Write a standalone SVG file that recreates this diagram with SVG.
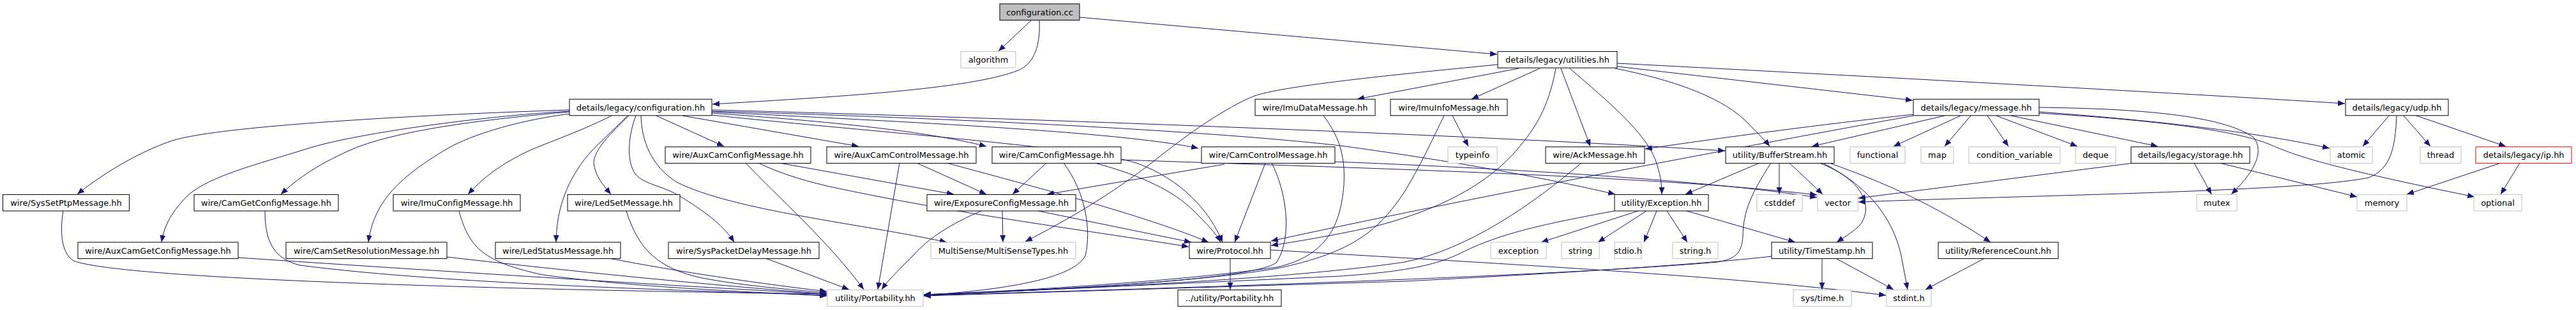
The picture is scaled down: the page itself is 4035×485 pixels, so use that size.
<svg xmlns="http://www.w3.org/2000/svg" width="4035" height="485" viewBox="0 0 4035 485">
<style>
text{font-family:"DejaVu Sans","Liberation Sans",sans-serif;font-size:13px;text-anchor:middle;fill:#000}
.n rect{fill:#fff;stroke:#000;stroke-width:1}
.x rect{fill:#fff;stroke:#bfbfbf;stroke-width:1}
.r rect{fill:#bfbfbf;stroke:#000;stroke-width:1}
.t rect{fill:#fff;stroke:#ff0000;stroke-width:1}
#edges path{fill:none;stroke:#191970;stroke-width:1;marker-end:url(#a)}
</style>
<defs>
<marker id="a" markerUnits="userSpaceOnUse" markerWidth="11" markerHeight="9" refX="11" refY="4.5" orient="auto"><path d="M0,0 L11,4.5 L0,9 Z" fill="#191970"/></marker>
</defs>
<rect width="4035" height="485" fill="#fff"/>
<g id="edges">
<path d="M1615,32 L1564,80"/>
<path d="M1628,32 C1630,70 1620,100 1595,110 C1520,140 1300,152 1116,163"/>
<path d="M1691,27 L2345,85"/>
<path d="M2346,101 C2150,120 2010,135 1965,150 C1920,168 1860,210 1810,250 C1740,305 1670,345 1606,378"/>
<path d="M2379,107 L2126,155"/>
<path d="M2412,107 L2305,155"/>
<path d="M2437,107 C2425,170 2405,200 2378,232 C2330,290 2250,330 2150,355 C2080,370 2030,378 1991,384"/>
<path d="M2445,107 L2491,229"/>
<path d="M2459,107 C2520,160 2575,205 2593,250 C2600,270 2603,285 2603,304"/>
<path d="M2530,107 C2620,125 2690,150 2730,185 C2750,205 2765,220 2772,229"/>
<path d="M2533,104 L2996,157"/>
<path d="M2533,99 C2900,118 3400,145 3673,162"/>
<path d="M892,172 C700,178 350,195 270,220 C210,240 150,280 121,304"/>
<path d="M892,174 C750,182 550,210 480,233 C400,258 330,275 295,305 C270,330 258,350 253,379"/>
<path d="M892,175 C780,185 640,200 560,230 C500,255 465,280 440,304"/>
<path d="M892,178 C800,190 730,215 700,233 C620,280 585,320 577,379"/>
<path d="M958,181 C900,210 850,225 820,240 C780,260 755,280 733,304"/>
<path d="M983,181 C960,205 930,230 915,250 C885,290 872,330 871,379"/>
<path d="M985,181 C955,210 930,235 930,255 C932,275 945,290 957,304"/>
<path d="M996,181 C985,210 980,250 995,272 C1010,290 1040,290 1070,310 C1110,335 1135,355 1150,379"/>
<path d="M1004,181 C1005,220 1020,260 1060,285 C1150,330 1350,350 1483,379"/>
<path d="M1028,181 L1134,229"/>
<path d="M1069,181 L1345,229"/>
<path d="M1115,177 C1300,190 1450,205 1545,229"/>
<path d="M1115,175 C1400,190 1750,205 1877,232"/>
<path d="M1115,180 C1350,205 1700,230 1780,255 C1850,280 1895,330 1915,379"/>
<path d="M1115,172 C1500,182 2300,210 2702,236"/>
<path d="M1115,174 C1500,185 1900,205 2100,228 C2300,255 2450,285 2530,304"/>
<path d="M1168,255 C1220,310 1300,380 1353,453"/>
<path d="M1188,255 C1230,275 1270,285 1300,292 C1500,335 1700,360 1862,386"/>
<path d="M1221,255 L1494,304"/>
<path d="M1409,255 L1375,453"/>
<path d="M1436,255 L1545,304"/>
<path d="M1483,255 C1650,300 1800,340 1893,379"/>
<path d="M1639,255 L1586,304"/>
<path d="M1666,255 C1700,300 1710,360 1700,400 C1680,440 1550,455 1447,462"/>
<path d="M1715,255 C1790,275 1840,300 1870,330 C1890,350 1905,365 1912,379"/>
<path d="M1756,250 C2100,262 2600,275 2846,305"/>
<path d="M1918,257 L1640,304"/>
<path d="M1982,255 L1934,379"/>
<path d="M1992,255 C2015,300 2025,370 2000,410 C1970,440 1600,455 1447,462"/>
<path d="M2091,253 C2400,265 2700,285 2846,309"/>
<path d="M2073,181 C2095,210 2108,240 2105,290 C2100,350 2080,400 2000,418 C1850,440 1600,455 1447,461"/>
<path d="M2262,181 C2245,215 2230,250 2200,300 C2160,360 2120,395 2000,420 C1850,445 1600,455 1447,461"/>
<path d="M2275,181 L2300,229"/>
<path d="M2477,255 C2400,320 2300,390 2200,410 C2000,440 1600,455 1447,461"/>
<path d="M1537,330 C1490,350 1455,372 1430,400 C1405,425 1390,440 1381,453"/>
<path d="M1570,330 L1571,379"/>
<path d="M1626,330 L1866,379"/>
<path d="M2997,181 C2700,235 2300,310 1991,377"/>
<path d="M2997,179 C2850,195 2700,215 2577,233"/>
<path d="M3046,181 L2838,229"/>
<path d="M3071,181 L2966,229"/>
<path d="M3087,181 L3046,229"/>
<path d="M3113,181 L3146,229"/>
<path d="M3127,181 L3254,229"/>
<path d="M3150,181 L3380,229"/>
<path d="M3194,168 C3350,170 3480,180 3530,215 C3550,240 3525,275 3495,304"/>
<path d="M3194,175 C3400,190 3550,210 3649,232"/>
<path d="M3194,177 C3380,188 3510,205 3560,228 C3600,245 3650,262 3876,308"/>
<path d="M3742,181 L3701,229"/>
<path d="M3765,181 L3807,229"/>
<path d="M3785,181 L3925,229"/>
<path d="M3754,181 C3752,230 3745,265 3710,278 C3600,300 3200,305 2911,316"/>
<path d="M3342,255 L2911,310"/>
<path d="M3437,255 L3464,304"/>
<path d="M3477,255 L3692,308"/>
<path d="M3917,255 L3770,304"/>
<path d="M3947,255 L3917,304"/>
<path d="M2756,255 L2640,304"/>
<path d="M2787,255 L2787,304"/>
<path d="M2803,255 L2855,304"/>
<path d="M2850,255 C2915,280 2935,320 2915,350 C2905,362 2890,370 2877,379"/>
<path d="M2855,255 C2925,290 2965,340 2978,400 L2988,453"/>
<path d="M2868,256 C2950,285 3030,320 3118,379"/>
<path d="M2774,255 C2745,300 2730,330 2730,370 C2728,395 2720,405 2690,410 C2400,435 1700,455 1447,462"/>
<path d="M2566,330 L2414,379"/>
<path d="M2579,330 L2503,379"/>
<path d="M2595,330 L2575,379"/>
<path d="M2611,330 L2643,379"/>
<path d="M2642,330 L2812,379"/>
<path d="M2529,330 C2420,350 2350,365 2290,395 C2250,415 2200,425 2100,432 L1447,462"/>
<path d="M2854,405 L2854,453"/>
<path d="M2877,405 L2966,453"/>
<path d="M2775,401 C2700,410 2500,425 2200,440 L1447,463"/>
<path d="M3107,405 L3016,453"/>
<path d="M1927,405 L1927,453"/>
<path d="M1990,391 C2300,410 2700,430 2954,462"/>
<path d="M99,330 C94,360 95,395 115,408 C200,440 900,455 1295,460"/>
<path d="M373,403 C700,425 1100,450 1295,460"/>
<path d="M415,330 C415,380 430,405 470,415 C700,445 1100,455 1295,462"/>
<path d="M700,402 C900,425 1100,445 1295,460"/>
<path d="M719,330 C735,390 760,410 850,430 C1000,450 1150,455 1295,463"/>
<path d="M981,330 C1000,390 1030,420 1100,435 C1170,448 1240,453 1295,458"/>
<path d="M954,404 C1060,425 1200,445 1295,456"/>
<path d="M1199,404 L1330,453"/>
</g>
<g id="n_cc" class="r"><rect x="1566" y="6" width="125" height="25.6"/><text x="1628.5" y="23.5">configuration.cc</text></g>
<g id="n_alg" class="x"><rect x="1505" y="80.6" width="86" height="25.6"/><text x="1548" y="98.1">algorithm</text></g>
<g id="n_util" class="n"><rect x="2346" y="80.6" width="187" height="25.6"/><text x="2439.5" y="98.1">details/legacy/utilities.hh</text></g>
<g id="n_conf" class="n"><rect x="892" y="155.2" width="223" height="25.6"/><text x="1003.5" y="172.7">details/legacy/configuration.hh</text></g>
<g id="n_imud" class="n"><rect x="1966" y="155.2" width="188" height="25.6"/><text x="2060" y="172.7">wire/ImuDataMessage.hh</text></g>
<g id="n_imui" class="n"><rect x="2178" y="155.2" width="183" height="25.6"/><text x="2269.5" y="172.7">wire/ImuInfoMessage.hh</text></g>
<g id="n_msg" class="n"><rect x="2997" y="155.2" width="197" height="25.6"/><text x="3095.5" y="172.7">details/legacy/message.hh</text></g>
<g id="n_udp" class="n"><rect x="3674" y="155.2" width="161" height="25.6"/><text x="3754.5" y="172.7">details/legacy/udp.hh</text></g>
<g id="n_acc" class="n"><rect x="1042" y="229.8" width="228" height="25.6"/><text x="1156" y="247.3">wire/AuxCamConfigMessage.hh</text></g>
<g id="n_acctl" class="n"><rect x="1295" y="229.8" width="234" height="25.6"/><text x="1412" y="247.3">wire/AuxCamControlMessage.hh</text></g>
<g id="n_camcfg" class="n"><rect x="1554" y="229.8" width="202" height="25.6"/><text x="1655" y="247.3">wire/CamConfigMessage.hh</text></g>
<g id="n_camctl" class="n"><rect x="1882" y="229.8" width="209" height="25.6"/><text x="1986.5" y="247.3">wire/CamControlMessage.hh</text></g>
<g id="n_typeinfo" class="x"><rect x="2268" y="229.8" width="77" height="25.6"/><text x="2306.5" y="247.3">typeinfo</text></g>
<g id="n_ack" class="n"><rect x="2421" y="229.8" width="155" height="25.6"/><text x="2498.5" y="247.3">wire/AckMessage.hh</text></g>
<g id="n_buf" class="n"><rect x="2703" y="229.8" width="170" height="25.6"/><text x="2788" y="247.3">utility/BufferStream.hh</text></g>
<g id="n_func" class="x"><rect x="2898" y="229.8" width="86" height="25.6"/><text x="2941" y="247.3">functional</text></g>
<g id="n_map" class="x"><rect x="3009" y="229.8" width="51" height="25.6"/><text x="3034.5" y="247.3">map</text></g>
<g id="n_cv" class="x"><rect x="3084" y="229.8" width="143" height="25.6"/><text x="3155.5" y="247.3">condition_variable</text></g>
<g id="n_deque" class="x"><rect x="3251" y="229.8" width="63" height="25.6"/><text x="3282.5" y="247.3">deque</text></g>
<g id="n_storage" class="n"><rect x="3338" y="229.8" width="186" height="25.6"/><text x="3431" y="247.3">details/legacy/storage.hh</text></g>
<g id="n_atomic" class="x"><rect x="3650" y="229.8" width="66" height="25.6"/><text x="3683" y="247.3">atomic</text></g>
<g id="n_thread" class="x"><rect x="3791" y="229.8" width="64" height="25.6"/><text x="3823" y="247.3">thread</text></g>
<g id="n_ip" class="t"><rect x="3878" y="229.8" width="150" height="25.6"/><text x="3953" y="247.3">details/legacy/ip.hh</text></g>
<g id="n_ptp" class="n"><rect x="4.5" y="304.4" width="198" height="25.6"/><text x="103.5" y="321.9">wire/SysSetPtpMessage.hh</text></g>
<g id="n_cgc" class="n"><rect x="304" y="304.4" width="226" height="25.6"/><text x="417" y="321.9">wire/CamGetConfigMessage.hh</text></g>
<g id="n_imuc" class="n"><rect x="616" y="304.4" width="199" height="25.6"/><text x="715.5" y="321.9">wire/ImuConfigMessage.hh</text></g>
<g id="n_ledset" class="n"><rect x="889" y="304.4" width="176" height="25.6"/><text x="977" y="321.9">wire/LedSetMessage.hh</text></g>
<g id="n_exp" class="n"><rect x="1452" y="304.4" width="233" height="25.6"/><text x="1568.5" y="321.9">wire/ExposureConfigMessage.hh</text></g>
<g id="n_exc" class="n"><rect x="2529" y="304.4" width="147" height="25.6"/><text x="2602.5" y="321.9">utility/Exception.hh</text></g>
<g id="n_cstddef" class="x"><rect x="2752" y="304.4" width="71" height="25.6"/><text x="2787.5" y="321.9">cstddef</text></g>
<g id="n_vector" class="x"><rect x="2847" y="304.4" width="63" height="25.6"/><text x="2878.5" y="321.9">vector</text></g>
<g id="n_mutex" class="x"><rect x="3441" y="304.4" width="63" height="25.6"/><text x="3472.5" y="321.9">mutex</text></g>
<g id="n_memory" class="x"><rect x="3692" y="304.4" width="78" height="25.6"/><text x="3731" y="321.9">memory</text></g>
<g id="n_optional" class="x"><rect x="3875" y="304.4" width="75" height="25.6"/><text x="3912.5" y="321.9">optional</text></g>
<g id="n_acgc" class="n"><rect x="122" y="379" width="251" height="25.6"/><text x="247.5" y="396.5">wire/AuxCamGetConfigMessage.hh</text></g>
<g id="n_csr" class="n"><rect x="448" y="379" width="252" height="25.6"/><text x="574" y="396.5">wire/CamSetResolutionMessage.hh</text></g>
<g id="n_ledst" class="n"><rect x="776" y="379" width="196" height="25.6"/><text x="874" y="396.5">wire/LedStatusMessage.hh</text></g>
<g id="n_spd" class="n"><rect x="1047" y="379" width="236" height="25.6"/><text x="1165" y="396.5">wire/SysPacketDelayMessage.hh</text></g>
<g id="n_mst" class="x"><rect x="1458" y="379" width="227" height="25.6"/><text x="1571.5" y="396.5">MultiSense/MultiSenseTypes.hh</text></g>
<g id="n_proto" class="n"><rect x="1863" y="379" width="127" height="25.6"/><text x="1926.5" y="396.5">wire/Protocol.hh</text></g>
<g id="n_exception" class="x"><rect x="2335" y="379" width="87" height="25.6"/><text x="2378.5" y="396.5">exception</text></g>
<g id="n_string" class="x"><rect x="2446" y="379" width="59" height="25.6"/><text x="2475.5" y="396.5">string</text></g>
<g id="n_stdio" class="x"><rect x="2529" y="379" width="42" height="25.6"/><text x="2550" y="396.5">stdio.h</text></g>
<g id="n_stringh" class="x"><rect x="2620" y="379" width="71" height="25.6"/><text x="2655.5" y="396.5">string.h</text></g>
<g id="n_ts" class="n"><rect x="2775" y="379" width="158" height="25.6"/><text x="2854" y="396.5">utility/TimeStamp.hh</text></g>
<g id="n_rc" class="n"><rect x="3036" y="379" width="188" height="25.6"/><text x="3130" y="396.5">utility/ReferenceCount.hh</text></g>
<g id="n_port" class="x"><rect x="1296" y="453.6" width="150" height="25.6"/><text x="1371" y="471.1">utility/Portability.hh</text></g>
<g id="n_port2" class="n"><rect x="1845" y="453.6" width="162" height="25.6"/><text x="1926" y="471.1">../utility/Portability.hh</text></g>
<g id="n_systime" class="x"><rect x="2809" y="453.6" width="91" height="25.6"/><text x="2854.5" y="471.1">sys/time.h</text></g>
<g id="n_stdint" class="x"><rect x="2955" y="453.6" width="70" height="25.6"/><text x="2990" y="471.1">stdint.h</text></g>
</svg>
